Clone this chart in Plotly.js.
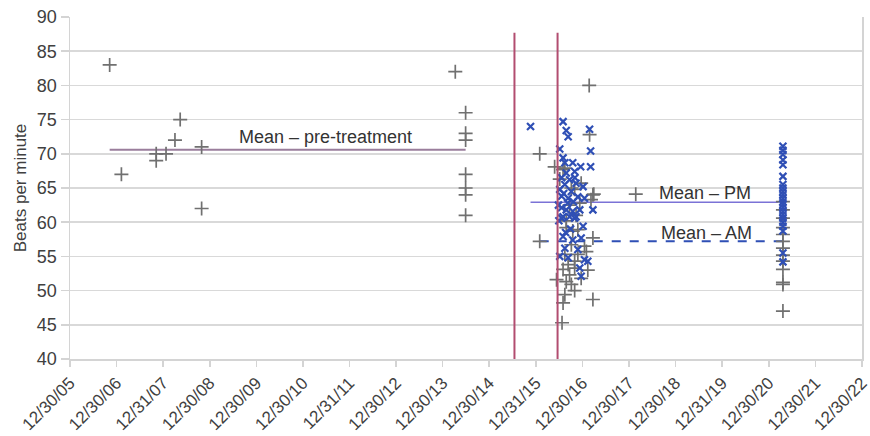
<!DOCTYPE html>
<html>
<head>
<meta charset="utf-8">
<script src="https://cdn.plot.ly/plotly-3.0.1.min.js"></script>
<style>html,body{margin:0;padding:0;background:#fff;}#chart{width:870px;height:436px;}</style>
</head>
<body>
<div id="chart"></div>
<script>
// Tick labels (Excel-style date axis, one per year)
var tickDates = ['2005-12-30','2006-12-30','2007-12-31','2008-12-30','2009-12-30','2010-12-30','2011-12-31','2012-12-30','2013-12-30','2014-12-30','2015-12-31','2016-12-30','2017-12-30','2018-12-30','2019-12-31','2020-12-30','2021-12-30','2022-12-30'];
var tickLabels = ['12/30/05','12/30/06','12/31/07','12/30/08','12/30/09','12/30/10','12/31/11','12/30/12','12/30/13','12/30/14','12/31/15','12/30/16','12/30/17','12/30/18','12/31/19','12/30/20','12/30/21','12/30/22'];

// AM readings (grey +)
var amDates = [
 '2006-11-06','2007-02-06','2007-11-06','2007-11-06','2008-01-22','2008-04-01','2008-05-12','2008-10-27','2008-10-27',
 '2014-04-08','2014-06-28','2014-06-28','2014-06-28','2014-06-28','2014-06-28','2014-06-28','2014-06-28',
 '2016-01-30','2016-01-30','2016-05-26','2017-02-24','2016-08-14','2016-12-20','2017-03-22','2017-03-07','2016-10-30',
 '2017-03-22','2016-10-04','2016-11-24','2016-09-09','2016-10-30','2016-07-31','2016-06-10','2016-08-25','2016-10-04',
 '2016-10-30','2016-08-14','2016-07-31','2017-03-22','2016-07-23','2016-12-20','2016-09-20','2016-10-30','2016-08-14',
 '2016-10-15','2016-08-25','2016-11-24','2017-01-15','2017-01-30','2017-02-21','2017-03-29','2017-02-10','2018-02-21',
 '2016-07-31','2016-07-05','2016-09-20','2016-11-10','2016-08-25','2016-12-09','2016-10-04',
 '2021-04-20','2021-04-20','2021-04-20','2021-04-20','2021-04-20','2021-04-20','2021-04-20','2021-04-20','2021-04-20',
 '2021-04-20','2021-04-20','2021-04-20','2021-04-20'
];
var amBpm = [
 83,67,70,69,70,72,75,71,62,
 82,76,73,72,67,65,64,61,
 70,57.2,68.1,72.8,67.9,65.7,64.0,63.3,64.8,
 57.7,56.7,55.3,53.8,53.3,53.1,51.6,51.3,50.9,
 50.0,49.4,48.2,48.7,45.3,51.8,52.3,54.3,55.3,
 58.7,59.2,58.9,56.5,55.7,80,64.1,53.0,64.1,
 67.7,66.3,62.5,61.0,60.2,62.8,65.0,
 58.2,57.2,56.2,55.2,54.3,53.1,51.2,50.9,47.0,
 60.6,63.0,59.2,61.8
];

// PM readings (blue x)
var pmDates = [
 '2015-11-19',
 '2016-07-31','2016-08-25','2016-09-09','2017-02-24','2017-03-04','2017-03-04','2016-07-05','2016-07-31','2016-08-14',
 '2016-10-15','2016-12-16','2016-10-30','2016-08-25','2016-07-20','2016-09-20','2016-08-14','2016-11-10','2017-01-04',
 '2016-07-05','2016-10-04','2016-07-20','2016-09-09','2016-11-24','2017-01-15','2017-03-22','2016-07-20','2016-08-25',
 '2016-10-15','2016-12-09','2016-07-31','2016-09-20','2016-11-10',
 '2016-07-20','2016-10-30','2017-01-04','2016-07-31','2016-10-15','2016-12-20','2016-08-14','2016-11-24','2016-07-05',
 '2016-09-09','2017-01-15','2017-02-10','2016-12-09','2016-12-20',
 '2016-06-25','2016-09-05','2016-10-20','2016-08-05','2016-11-01','2016-06-28','2016-09-28','2016-08-20',
 '2021-04-20','2021-04-20','2021-04-20','2021-04-20','2021-04-20','2021-04-20','2021-04-20','2021-04-20','2021-04-20',
 '2021-04-20','2021-04-20','2021-04-20','2021-04-20','2021-04-20','2021-04-20','2021-04-20','2021-04-20','2021-04-20',
 '2021-04-20','2021-04-20','2021-04-20','2021-04-20'
];
var pmBpm = [
 74,
 74.7,73.4,72.5,73.6,70.4,68.1,70.7,69.4,68.7,
 68.7,68.1,67.4,67.2,66.5,66.2,65.5,65.7,65.2,
 64.8,64.5,63.8,63.5,63.7,63.5,61.8,62.1,61.8,
 61.6,61.8,60.8,60.8,60.8,
 60.6,60.6,59.4,57.9,57.4,57.7,56.2,56.0,55.0,
 54.8,54.5,54.3,53.3,52.1,
 62.5,62.8,63.0,64.2,66.5,60.2,59.0,58.5,
 71.1,70.5,69.9,69.1,68.4,66.7,65.5,65.0,64.5,
 64.0,63.5,63.0,62.6,62.1,61.6,61.1,60.6,60.0,
 59.4,58.7,55.5,54.2
];

// Mean lines
var preMeanDates = ['2006-11-06','2014-06-28'];
var preMeanBpm = [70.6, 70.6];
var pmMeanDates = ['2015-11-19','2021-03-18'];
var pmMeanBpm = [62.9, 62.9];
var amMeanDates = ['2016-01-30','2021-04-20'];
var amMeanBpm = [57.2, 57.2];

// Treatment markers (vertical lines)
var treatmentDates = ['2015-07-16','2016-06-18'];
var treatmentTopBpm = 87.7;

// Labels
var labelTexts = ['Mean – pre-treatment','Mean – PM','Mean – AM'];
var labelDates = ['2011-06-24','2019-08-19','2019-09-01'];
var labelBpm = [72.5, 64.3, 58.4];

var font = 'Liberation Sans, Arial, sans-serif';

var traces = [
 {x: preMeanDates, y: preMeanBpm, mode:'lines', line:{color:'#9a7e9c', width:2}, hoverinfo:'skip'},
 {x: pmMeanDates, y: pmMeanBpm, mode:'lines', line:{color:'#7b72d6', width:1.5}, hoverinfo:'skip'},
 {x: amMeanDates, y: amMeanBpm, mode:'lines', line:{color:'#2f4fb5', width:2, dash:'dash'}, hoverinfo:'skip'},
 {x: amDates, y: amBpm, mode:'markers', marker:{symbol:'cross-thin', size:10, line:{color:'#707070', width:1.7}}},
 {x: pmDates, y: pmBpm, mode:'markers', marker:{symbol:'x-thin', size:7, line:{color:'#2f4fb5', width:2.2}}}
];

var shapes = treatmentDates.map(function(d){
 return {type:'line', xref:'x', yref:'y', x0:d, x1:d, y0:40, y1:treatmentTopBpm, line:{color:'#b24d70', width:2}};
});

var annotations = labelTexts.map(function(t,i){
 return {text:t, x:labelDates[i], y:labelBpm[i], xref:'x', yref:'y', showarrow:false, font:{family:font, size:18, color:'#333333'}, xanchor:'center', yanchor:'middle'};
});

var layout = {
 width:870, height:436,
 margin:{l:70, r:8, t:17, b:77},
 paper_bgcolor:'#ffffff', plot_bgcolor:'#ffffff',
 showlegend:false,
 font:{family:font, color:'#404040'},
 xaxis:{type:'date', range:['2005-12-30','2022-12-31'], tickvals:tickDates, ticktext:tickLabels, tickangle:-45,
  ticklabeloverflow:'allow',
  tickfont:{family:font, size:17, color:'#404040'}, showgrid:false, zeroline:false, showline:true, linecolor:'#d4d4d4', linewidth:1.5,
  ticks:'outside', ticklen:6, tickcolor:'#d4d4d4', tickwidth:1.5},
 yaxis:{range:[40,90], dtick:5, tick0:40, showgrid:true, gridcolor:'#d9d9d9', gridwidth:1.5, zeroline:false,
  showline:true, linecolor:'#d4d4d4', linewidth:1.5, mirror:true, ticks:'outside', ticklen:8, tickcolor:'#d4d4d4', tickwidth:1.5,
  tickfont:{family:font, size:18, color:'#404040'},
  title:{text:'Beats per minute', font:{family:font, size:17, color:'#404040'}, standoff:6}},
 shapes:shapes,
 annotations:annotations
};

Plotly.newPlot('chart', traces, layout, {displayModeBar:false, staticPlot:true});
</script>
</body>
</html>
